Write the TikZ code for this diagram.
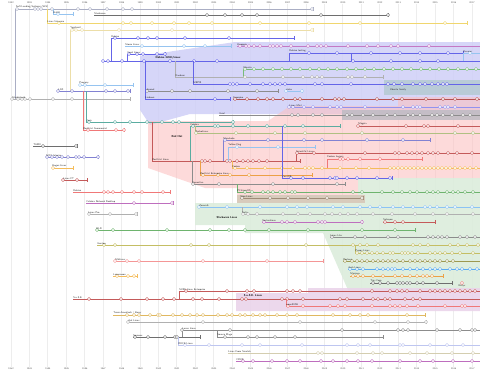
\documentclass[tikz,border=0pt]{standalone}
\usepackage{tikz}
\usetikzlibrary{positioning}
% region colours
\definecolor{debregion}{RGB}{207,207,247}
\definecolor{rhregion}{RGB}{252,193,193}
\definecolor{slackregion}{RGB}{220,236,220}
\definecolor{suseregion}{RGB}{234,212,234}
\definecolor{ububox}{RGB}{178,200,208}
\definecolor{graybox}{RGB}{186,186,194}
\definecolor{brownbox}{RGB}{216,200,184}
% line colours
\definecolor{slsgray}{RGB}{170,174,196}
\definecolor{slackgray}{RGB}{110,110,110}
\definecolor{suseyellow}{RGB}{240,214,110}
\definecolor{paleyellow}{RGB}{236,222,168}
\definecolor{debblue}{RGB}{100,100,232}
\definecolor{skyblue}{RGB}{150,196,240}
\definecolor{knoppurple}{RGB}{196,120,196}
\definecolor{ubugreen}{RGB}{120,188,120}
\definecolor{lightgray}{RGB}{176,176,176}
\definecolor{midgray}{RGB}{140,140,140}
\definecolor{tealline}{RGB}{90,172,160}
\definecolor{redhatred}{RGB}{196,90,90}
\definecolor{salmon}{RGB}{240,120,120}
\definecolor{fedorange}{RGB}{244,188,90}
\definecolor{rhelorange}{RGB}{236,160,70}
\definecolor{violet}{RGB}{130,130,210}
\definecolor{olivegreen}{RGB}{176,192,130}
\definecolor{oliveyellow}{RGB}{196,190,100}
\definecolor{brownline}{RGB}{160,140,120}
\definecolor{pinkline}{RGB}{244,150,150}
\definecolor{goldline}{RGB}{224,184,96}
\definecolor{lavender}{RGB}{190,198,240}
\definecolor{beige}{RGB}{212,206,176}
\definecolor{plum}{RGB}{190,110,190}
\definecolor{leafgreen}{RGB}{110,180,110}
\definecolor{brightblue}{RGB}{90,170,240}
\definecolor{darkred}{RGB}{180,80,80}

% one distribution: id, colour, y, start, end, releases, name
\newcommand{\distro}[7]{%
  \coordinate (#1-s) at (#4,#3);
  \coordinate (#1-e) at (#5,#3);
  \draw[distline, draw=#2] (#1-s) -- (#1-e);
  \ifdim #5pt<478pt \draw[endtick, draw=#2] ([yshift=-2.4pt]#1-e) -- ([yshift=2.4pt]#1-e);\fi
  \foreach \r [count=\i] in {#6} {\node[release, draw=#2] (#1-r\i) at (\r,#3) {};}
  \node[distlabel] (#1-l) at (#1-s) {#7};
}
% a fork: same, plus the y of the parent line
\newcommand{\branch}[8]{%
  \coordinate (#1-f) at (#4,#8);
  \coordinate (#1-s) at (#4,#3);
  \coordinate (#1-e) at (#5,#3);
  \draw[distline, draw=#2] (#1-f) -- (#1-s) -- (#1-e);
  \ifdim #5pt<478pt \draw[endtick, draw=#2] ([yshift=-2.4pt]#1-e) -- ([yshift=2.4pt]#1-e);\fi
  \foreach \r [count=\i] in {#6} {\node[release, draw=#2] (#1-r\i) at (\r,#3) {};}
  \node[distlabel] (#1-l) at (#1-s) {#7};
}

\begin{document}
\begin{tikzpicture}[x=0.05cm, y=-0.05cm,
  distline/.style={line width=1.1pt},
  endtick/.style={line width=0.8pt},
  release/.style={circle, fill=white, line width=0.55pt, minimum size=4.4pt, inner sep=0pt},
  distlabel/.style={anchor=south west, font=\sffamily\fontsize{3.6}{4}\selectfont, inner sep=0.5pt, text=black!85},
  biglabel/.style={font=\sffamily\bfseries\fontsize{4}{4.5}\selectfont, inner sep=0.5pt},
  yearlbl/.style={font=\sffamily\fontsize{3.4}{4}\selectfont, text=black!70, inner sep=0.5pt},
  gridline/.style={line width=1.4pt, black!7}]
\useasboundingbox (0,0) rectangle (480,373);

% years
\foreach \yr [count=\k from 0] in {1992,...,2017} {
  \node[yearlbl] (yt\k) at ({11+18.44*\k},3) {\yr};
  \node[yearlbl] (yb\k) at ({11+18.44*\k},369) {\yr};
  \draw[gridline] (yt\k.south) -- (yb\k.north);
}

% family regions
\fill[debregion, fill opacity=0.85] (235,42) -- (480,42) -- (480,114) -- (190,114) -- (150,125) -- (140,110) -- (140,56) -- cycle;
\fill[rhregion, fill opacity=0.6] (148,121) -- (268,121) -- (290,106) -- (398,106) -- (398,97) -- (480,97) -- (480,178) -- (358,178) -- (358,195) -- (237,195) -- (237,188) -- (205,188) -- (148,168) -- cycle;
\fill[slackregion, fill opacity=0.9] (358,178) -- (480,178) -- (480,290) -- (348,290) -- (323,233) -- (245,233) -- (245,225) -- (195,225) -- (195,203) -- (237,203) -- (237,195) -- (358,195) -- cycle;
\fill[suseregion, fill opacity=0.9] (236,293) -- (308,293) -- (308,288) -- (480,288) -- (480,311) -- (236,311) -- cycle;
\fill[ububox, fill opacity=0.8] (384,80) rectangle (480,95);
\fill[graybox, fill opacity=0.8] (342,110) rectangle (480,120);
\fill[brownbox, fill opacity=0.9] (237,195) rectangle (365,203);

% top: SLS and early ones
\distro{sls}{slsgray}{9}{15.7}{313}{17,35,38,41,52,78,90,107,123,132,312}{Soft Landing Systems (SLS)}
\coordinate (sls-down) at (15.7,99);
\draw[distline, draw=slsgray] (sls-s) -- (sls-down);
\branch{hal}{skyblue}{14}{53}{73}{58}{Hal91}{9}
\distro{slackware}{slackgray}{15}{94}{388}{207,225,242,257,321,388}{Slackware}
\branch{universe}{suseyellow}{23}{47}{467}{59,123,131,152,174,189,212,260,309,360,445}{Linux Universe}{9}
\branch{yggdrasil}{paleyellow}{30}{70}{313}{72,76,82,119,172,312}{Yggdrasil}{91}

% Debian family
\branch{debold}{debblue}{38}{111}{294}{115,138,148,157,185,229}{Debian}{61}
\distro{storm}{skyblue}{46}{125}{231}{142,184,205}{Storm Linux}
\distro{knoppix}{knoppurple}{46}{237}{480}{240,246,249,254,260,270,273,277,281,291,308,317,321,326,348,367,378,391,398,429}{Knoppix}
\branch{corel}{debblue}{54}{127}{165}{129,137,143,157,165}{Corel Linux}{61}
\branch{debtesting}{debblue}{53}{289}{463}{309,337,371,400,420,448}{Debian testing}{61}
\branch{devuan}{skyblue}{53}{463}{480}{470}{Devuan}{61}
\distro{debian}{debblue}{61}{102}{480}{103,108,122,144,170,194,217,353,391,420,438}{}
\node[biglabel] (debian-name) at (168,58) {Debian GNU/Linux};
\coordinate (dt-a) at (351,53); \coordinate (dt-b) at (351,61);
\draw[distline, draw=debblue] (dt-a) -- (dt-b);
\branch{ubuntu}{ubugreen}{69}{243}{480}{245,254,263,273,282,291,300,310,319,328,337,347,356,365,374,384,393,402,411,421,430,439,448,458,467,476}{Ubuntu}{77}
\branch{xandros}{lightgray}{77}{175}{383}{245,283,303,312,317,322,348,352,365}{Xandros}{61}
\branch{mepis}{debblue}{84}{193}{480}{230,233,237,250,263,270,275,280,285,315,322,351,388,394,402,413,420,425,432,438,443,447}{MEPIS}{61}
\node[distlabel, anchor=center] (ubu-name) at (398,90) {Ubuntu family};
\distro{progeny}{skyblue}{85}{79}{133}{80,85,105}{Progeny}
\distro{lgx}{violet}{91}{58}{130}{58,72,106,115,128}{LGX}
\branch{libranet}{midgray}{91}{145}{278}{147,172,190,228,257}{Libranet}{61}
\distro{sidux}{skyblue}{91}{286}{302}{286,302}{sidux}
\distro{slackintosh}{lightgray}{99}{12}{130}{12,18,22,25,30,53,72}{Slackintosh}
\branch{lindows}{debblue}{99}{145}{230}{215}{Lindows}{61}
\distro{freespire}{darkred}{99}{233}{480}{235,247,258,267,273,283,295,300,322,335,339,344,377,393,402,426,443,455,477}{Freespire}
\distro{mint}{debblue!70}{107}{289}{480}{289,293,304,313,330,337,341,365,403,413,417,420,440,445,448,455}{Linux Mint}
\distro{grml}{midgray}{115}{219}{480}{292,298,313,322,347,352,363,373,387,395,408,413,420,432,437,443,452,463,470}{Grml}

% Red Hat family
\branch{jurix}{tealline}{122}{86}{233}{89,115,130,147,162,173,179,233}{Jurix}{91}
\branch{rhcommercial}{salmon}{130}{83}{124}{88,116,124}{Red Hat Commercial}{91}
\branch{redhat}{redhatred}{161}{152}{300}{202,205,210,227,230,237,243,248,253,259,267}{Red Hat Linux}{122}
\node[biglabel] (redhat-name) at (177,137) {Red Hat};
\branch{caldera}{tealline}{126}{190}{340}{193,215,218,233,248,267,285,303}{Caldera}{161}
\distro{mageia}{redhatred}{126}{358}{480}{358,406,424,428,458}{Mageia}
\branch{turbolinux}{olivegreen}{133}{195}{480}{196,236,275,305,362,455,473}{TurboLinux}{126}
\branch{mandrake}{violet}{140}{223}{430}{225,268,304,322,367,403}{Mandrake}{161}
\branch{yellowdog}{skyblue}{147}{228}{315}{237,278}{Yellow Dog}{161}
\branch{scientific}{redhatred}{153}{296}{480}{297,314,365,395,399,407,412,417,422,428,433,438,448,457,472}{Scientific Linux}{161}
\branch{fedoralegacy}{salmon}{159}{327}{422}{340,343,348,360,380}{Fedora Legacy}{168}
\branch{fedora}{fedorange}{168}{232}{480}{235,247,265,282,293,305,309,313,322,340,356,369,390,394,398,402,406,410,414,418,422,426,430,434,438,442,446,450,455,460,465,470,476}{Fedora}{161}
\branch{rhel}{rhelorange}{175}{200}{312}{203,218,230,249}{Red Hat Enterprise Linux}{161}
\branch{centos}{debblue}{178}{282}{392}{291,303,330,335,337,347,357,377,390}{CentOS}{126}
\branch{conectiva}{midgray}{184}{192}{345}{193,219,273,337}{Conectiva}{161}
\branch{pclinuxos}{leafgreen}{192}{237}{480}{245,252,263,268,273,280,285,292,295,353,362,382,393,402,410,417,427,433,438,447,453,458,465,473}{PCLinuxOS}{184}

% early independents
\distro{tamu}{slackgray}{146}{33}{77}{43,76}{TAMU}
\distro{mcc}{violet}{157}{46}{98}{47,52,57,62,68,76,79,84,98}{MCC Interim}
\distro{ygg2}{fedorange}{168}{52}{73}{53}{Bogus Linux}
\distro{linuxft}{redhatred}{180}{63}{87}{63,77}{Linux FT}
\distro{debug}{salmon}{192}{73}{170}{104,108,113,122,134,142,163}{Debian}
\distro{openlinux}{plum}{203}{86}{173}{134,172}{Caldera Network Desktop}
\distro{lunar}{lightgray}{214}{88}{137}{89,110,136}{Linux Pro}

% Slackware family
\distro{vine}{brownline}{198}{240}{363}{242,270,288,308,327,362}{Vine Linux}
\distro{zenwalk}{brightblue!70}{207}{199}{480}{199,227,260,287,297,307,333,343,360,370,380,393,403,413,425,430,437,447,455,472}{Zenwalk}
\branch{salix}{lightgray}{214}{242}{480}{243,248,257,283,298,310,325,332,340,348,357,373,392,415,433,447,473}{Salix}{207}
\distro{vector}{plum}{222}{262}{362}{264,282,287,295,318,322,325,362}{VectorLinux}
\distro{sabayon}{redhatred}{222}{383}{435}{385,395,403}{Sabayon}
\node[biglabel] (slack-name) at (227,218) {Slackware Linux};
\distro{dlx}{leafgreen}{230}{96}{415}{97,113,167,210,229,245,269,308,362,395}{DLD}
\distro{lite}{midgray}{237}{330}{480}{332,355,365,388,398,428,433,438,442,447,460,467,475}{Linux Lite}
\distro{gentoo}{oliveyellow}{245}{97}{480}{104,115,191,209,306,353,360,367,378,413,420,428,450,458,467,478}{Gentoo}
\branch{puppy}{oliveyellow}{253}{355}{480}{357,362,367,372,377,383,390,393,402,405,408,412,418,430,435,440,445,452,460,473}{Puppy Linux}{245}
\distro{mklinux}{pinkline}{261}{115}{323}{115,127,139,203,267}{MkLinux}
\distro{porteus}{oliveyellow!80!black}{261}{343}{480}{345,352,357,362,367,373,378,383,388,392,397,403,410,415,420,425,430,435,440,447,453}{Porteus}
\distro{arch}{brightblue}{269}{348}{480}{350,357,363,377,383,388,392,395,403,410,417,423,430,435,440,450,457,462,470,477}{Arch Linux}
\distro{manjaro}{rhelorange}{276}{350}{443}{353,358,363,373,383,395,402,410,417,423,427,432}{Manjaro}
\distro{lasermoon}{fedorange}{276}{113}{137}{117,128,134}{Lasermoon}
\distro{tinycore}{slackgray}{283}{370}{452}{373,380,388,397,400,403,407,410,417,423,437}{Tiny Core}
\node[release, draw=salmon] (lone) at (462,283) {};
\node[distlabel, anchor=north] (lone-l) at (lone.south) {Nutyx};

% SUSE family
\distro{suse}{redhatred}{299}{73}{480}{89,121,147,163,174,193,202,219,242,246,282,287,303,340,347,363,373,378,385,390,405,413,420}{S.u.S.E.}
\branch{sle}{redhatred}{291}{179}{480}{186,227,247,254,287,293,300,372,390,397,402,407,420,430,435,440,445,450,455,460,465,470,475}{SUSE Linux Enterprise}{299}
\branch{opensuse}{salmon}{306}{286}{480}{288,303,330,338,345,372,390,395,400,407,418,445,462,465}{openSUSE}{299}
\node[biglabel] (suse-name) at (253,296) {S.u.S.E. Linux};

% bottom rows
\distro{transameritech}{goldline}{315}{113}{425}{127,134,139,150,158,160,173,182,190,197,203,218,227,232,240,245,253,260,265,277,287,297,333,350,360,368,407}{Trans-Ameritech / Berry}
\distro{ark}{lightgray}{322}{128}{426}{128,203,300,375,408,426}{Ark Linux}
\distro{sorcerer}{slackgray}{337}{133}{200}{135,148,165,175,177}{Sorcerer}
\branch{lunarlinux}{midgray}{330}{182}{480}{182,230,342,398,403,408,437,460,472,475}{Lunar Linux}{337}
\branch{sourcemage}{midgray}{337}{217}{383}{225,248,257,275,295}{Source Mage}{330}
\branch{rocklinux}{lavender}{345}{178}{480}{185,209,242,260,302,347,358,370,400,403,430,447,463}{ROCK Linux}{337}
\distro{linuxfromscratch}{beige}{353}{228}{480}{318,322,357,373,382,410,427,452,473}{Linux From Scratch}
\distro{crux}{plum}{361}{236}{480}{243,253,272,287,300,321,333,347,358,372,400,420,433,453,472}{CRUX}
\end{tikzpicture}
\end{document}
